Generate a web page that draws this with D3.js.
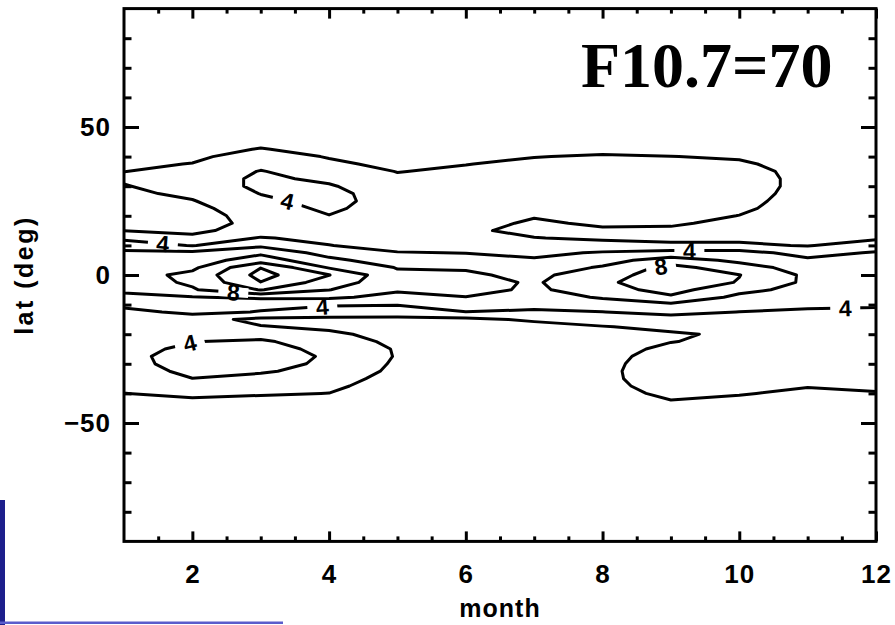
<!DOCTYPE html>
<html>
<head>
<meta charset="utf-8">
<title>F10.7=70</title>
<script src="https://cdn.jsdelivr.net/npm/d3@7/dist/d3.min.js"></script>
<style>
  html, body { margin: 0; padding: 0; background: #fff; }
  svg { display: block; }
</style>
</head>
<body>
<svg id="chart" width="895" height="625"></svg>
<script>
// Grid columns (month) and the latitude rows (deg) that every column lists, north to south
const months = [1, 2, 3, 4, 5, 6, 7, 8, 9, 10, 11, 12];
const latRows = [45, 42.5, 40, 37.5, 35, 32.5, 30, 27.5, 25, 22.5, 20, 17.5, 15, 12.5, 10, 7.5, 5, 2.5, 0,
  -2.5, -5, -7.5, -10, -12.5, -15, -17.5, -20, -22.5, -25, -27.5, -30, -32.5, -35, -37.5, -40, -42.5, -45];

// Field values for each month, one per latitude row
const jan = [0.8, 1.1, 1.4, 1.7, 1.98, 2.23, 1.9, 1.6, 1.4, 1.3, 1.4, 1.6, 1.95, 3.55, 5.06, 6.4, 6.8, 7.05, 7.15,
  7.0, 6.4, 5.5, 4.6, 3.25, 2.9, 2.8, 2.9, 3.1, 3.4, 3.6, 3.5, 3.2, 2.8, 2.4, 1.98, 1.6, 1.2];
const feb = [1.0, 1.3, 1.7, 2.05, 2.5, 2.8, 2.8, 2.4, 1.9, 1.5, 1.3, 1.3, 1.6, 2.4, 3.9, 6.4, 7.0, 7.6, 8.5,
  8.3, 7.8, 5.9, 5.1, 4.6, 2.7, 3.0, 3.2, 3.95, 4.4, 4.6, 4.6, 4.4, 3.98, 3.0, 2.3, 1.8, 1.3];
const mar = [1.5, 2.1, 2.7, 3.4, 4.1, 4.4, 4.4, 4.05, 3.6, 3.1, 2.7, 2.5, 2.8, 4.16, 5.6, 7.6, 9.03, 11.95, 12.67,
  11.95, 10.1, 6.35, 4.6, 3.89, 1.53, 2.1, 3.2, 4.3, 4.7, 4.8, 4.6, 4.2, 3.5, 2.8, 2.15, 1.6, 1.1];
const apr = [1.0, 1.4, 1.9, 2.3, 2.9, 3.6, 4.2, 4.6, 4.6, 4.35, 3.95, 3.4, 3.1, 3.4, 4.05, 5.2, 6.5, 7.85, 10.05,
  9.0, 8.05, 6.4, 4.2, 3.2, 1.5, 1.7, 2.3, 2.9, 3.5, 3.8, 3.7, 3.4, 2.9, 2.5, 1.98, 1.5, 1.0];
const may = [0.7, 0.9, 1.2, 1.6, 1.95, 2.3, 2.6, 2.9, 3.1, 3.0, 2.8, 2.6, 2.5, 2.7, 3.3, 4.1, 4.9, 5.9, 6.4,
  6.7, 6.3, 5.3, 4.1, 3.0, 1.5, 1.3, 1.44, 1.6, 1.83, 1.86, 1.7, 1.53, 1.23, 0.83, 0.7, 0.6, 0.5];
const jun = [0.9, 1.2, 1.5, 1.95, 2.3, 2.6, 2.8, 3.0, 3.0, 2.9, 2.7, 2.5, 2.3, 2.5, 3.1, 3.95, 4.8, 5.8, 6.3,
  6.8, 6.8, 5.95, 5.0, 3.98, 1.5, 1.2, 1.0, 0.9, 0.9, 0.9, 0.8, 0.8, 0.7, 0.6, 0.5, 0.5, 0.4];
const jul = [1.1, 1.4, 1.95, 2.4, 2.8, 3.0, 3.0, 2.9, 2.7, 2.4, 2.1, 1.8, 1.53, 2.05, 2.8, 3.5, 4.25, 5.0, 5.5,
  5.75, 5.6, 5.1, 4.6, 3.7, 2.3, 1.3, 1.0, 0.9, 0.8, 0.8, 0.7, 0.7, 0.6, 0.6, 0.5, 0.5, 0.4];
const aug = [1.3, 1.65, 2.15, 2.6, 2.9, 3.1, 3.1, 3.0, 2.8, 2.6, 2.4, 2.2, 1.8, 1.75, 2.6, 4.2, 5.3, 6.2, 7.2,
  7.67, 7.2, 6.2, 4.95, 3.98, 3.0, 1.9, 1.4, 1.3, 1.3, 1.4, 1.5, 1.6, 1.6, 1.5, 1.3, 1.0, 0.8];
const sep = [1.2, 1.6, 2.02, 2.5, 2.9, 3.1, 3.1, 3.0, 2.8, 2.6, 2.4, 2.15, 1.8, 1.6, 2.3, 4.75, 6.87, 8.7, 9.0,
  9.1, 8.7, 7.7, 5.6, 4.4, 3.4, 2.5, 1.75, 1.95, 2.4, 2.8, 3.0, 3.0, 2.9, 2.7, 2.4, 1.95, 1.5];
const oct = [1.1, 1.5, 1.85, 2.2, 2.5, 2.6, 2.6, 2.5, 2.35, 2.2, 1.98, 1.7, 1.5, 1.6, 2.3, 4.8, 5.6, 6.8, 8.05,
  7.9, 6.6, 5.5, 4.7, 3.98, 3.3, 2.8, 2.35, 2.4, 2.5, 2.5, 2.6, 2.6, 2.5, 2.3, 2.1, 1.7, 1.3];
const nov = [0.9, 1.1, 1.3, 1.45, 1.55, 1.6, 1.6, 1.55, 1.5, 1.45, 1.4, 1.35, 1.3, 1.5, 1.9, 3.2, 4.4, 5.2, 5.6,
  5.6, 5.3, 4.9, 4.4, 3.7, 3.2, 2.9, 2.7, 2.6, 2.6, 2.6, 2.5, 2.4, 2.25, 2.08, 1.7, 1.3, 1.0];
const dec = [0.8, 1.0, 1.2, 1.3, 1.4, 1.45, 1.45, 1.4, 1.35, 1.3, 1.3, 1.3, 1.4, 1.7, 2.9, 4.2, 4.9, 5.3, 5.5,
  5.5, 5.3, 5.0, 4.3, 3.5, 3.0, 2.7, 2.6, 2.5, 2.5, 2.5, 2.4, 2.35, 2.25, 2.15, 1.95, 1.5, 1.1];

const monthColumns = [jan, feb, mar, apr, may, jun, jul, aug, sep, oct, nov, dec];

// Contour levels, axis ticks and the in-line contour labels
const levels = [2, 4, 6, 8, 10, 12];
const xTicks = [2, 4, 6, 8, 10, 12];
const yTicks = [-50, 0, 50];
const contourLabels = [
  { level: 4, month: 3.4,  lat: 26 },
  { level: 4, month: 1.57, lat: 11 },
  { level: 8, month: 2.6,  lat: -5.5 },
  { level: 4, month: 3.9,  lat: -10.5 },
  { level: 4, month: 1.95, lat: -22 },
  { level: 4, month: 9.27, lat: 9.5 },
  { level: 8, month: 8.85, lat: 3.5 },
  { level: 4, month: 11.55, lat: -11 }
];

const svg = d3.select("#chart");
const plot = { left: 124, right: 876, top: 8.6, bottom: 541.4 };
const sans = "Liberation Sans, Arial, Helvetica, sans-serif";

const x = d3.scaleLinear().domain([1, 12]).range([plot.left, plot.right]);
const y = d3.scaleLinear().domain([-90, 90]).range([plot.bottom, plot.top]);

// Slide edge remnants in the lower-left corner
svg.append("rect").attr("x", 0).attr("y", 500).attr("width", 5).attr("height", 125).attr("fill", "#1d1f8c");
svg.append("rect").attr("x", 0).attr("y", 621.5).attr("width", 283).attr("height", 2.5).attr("fill", "#5a5ccc");

// Flatten the grid row by row for d3.contours
const values = [];
latRows.forEach((lat, j) => months.forEach((m, i) => values.push(monthColumns[i][j])));

const contours = d3.contours()
  .size([months.length, latRows.length])
  .thresholds(levels)(values);

// Grid coordinates -> month / latitude -> pixels
const colToMonth = d3.scaleLinear().domain([0.5, months.length - 0.5]).range([months[0], months[months.length - 1]]);
const rowToLat = d3.scaleLinear().domain([0.5, latRows.length - 0.5]).range([latRows[0], latRows[latRows.length - 1]]);
const toPx = ([px, py]) => [x(colToMonth(px)), y(rowToLat(py))];
const gridProjection = d3.geoTransform({
  point(px, py) { const p = toPx([px, py]); this.stream.point(p[0], p[1]); }
});
const path = d3.geoPath(gridProjection);

svg.append("clipPath").attr("id", "plotClip")
  .append("rect")
  .attr("x", plot.left).attr("y", plot.top)
  .attr("width", plot.right - plot.left).attr("height", plot.bottom - plot.top);

const body = svg.append("g").attr("clip-path", "url(#plotClip)");

body.selectAll("path.contour")
  .data(contours)
  .join("path")
  .attr("class", "contour")
  .attr("d", path)
  .attr("fill", "none")
  .attr("stroke", "#000")
  .attr("stroke-width", 3)
  .attr("stroke-linejoin", "round");

// Find the closest point on a level's contour to place its label
function nearestOnContour(level, tx, ty) {
  const c = contours.find(d => d.value === level);
  let best = null, bd = Infinity;
  c.coordinates.forEach(poly => poly.forEach(ring => {
    const pts = ring.map(toPx);
    for (let k = 1; k < pts.length; k++) {
      const [x0, y0] = pts[k - 1], [x1, y1] = pts[k];
      const dx = x1 - x0, dy = y1 - y0, L = dx * dx + dy * dy;
      let t = L ? ((tx - x0) * dx + (ty - y0) * dy) / L : 0;
      t = Math.max(0, Math.min(1, t));
      const qx = x0 + t * dx, qy = y0 + t * dy;
      const d = (qx - tx) ** 2 + (qy - ty) ** 2;
      if (d < bd) { bd = d; best = [qx, qy, Math.atan2(dy, dx) * 180 / Math.PI]; }
    }
  }));
  return best;
}

contourLabels.forEach(lab => {
  const p = nearestOnContour(lab.level, x(lab.month), y(lab.lat));
  if (!p) return;
  let ang = p[2];
  if (ang > 90) ang -= 180;
  if (ang < -90) ang += 180;
  const g = body.append("g").attr("transform", `translate(${p[0]},${p[1]}) rotate(${ang})`);
  g.append("rect").attr("x", -15).attr("y", -5).attr("width", 30).attr("height", 10).attr("fill", "#fff");
  g.append("text")
    .attr("text-anchor", "middle")
    .attr("dy", "0.36em")
    .attr("font-family", sans)
    .attr("font-weight", "bold")
    .attr("font-size", 23)
    .text(lab.level);
});

// Axes: ticks point inward, mirrored on the top and right edges
const minorX = d3.range(3, 24).map(v => v / 2).filter(v => !xTicks.includes(v));
const minorY = d3.range(-80, 90, 10).filter(v => !yTicks.includes(v));

function styleAxis(g) {
  g.select(".domain").remove();
  g.selectAll(".tick line").attr("stroke", "#000").attr("stroke-width", 3);
  g.selectAll(".tick text")
    .attr("font-family", sans)
    .attr("font-weight", "bold")
    .attr("font-size", 26)
    .attr("letter-spacing", 1)
    .attr("fill", "#000");
}

svg.append("g").attr("transform", `translate(0,${plot.bottom})`)
  .call(d3.axisBottom(x).tickValues(xTicks).tickSize(-10).tickPadding(23)).call(styleAxis);
svg.append("g").attr("transform", `translate(0,${plot.bottom})`)
  .call(d3.axisBottom(x).tickValues(minorX).tickSize(-5).tickFormat("")).call(styleAxis);
svg.append("g").attr("transform", `translate(0,${plot.top})`)
  .call(d3.axisTop(x).tickValues(xTicks).tickSize(-10).tickFormat("")).call(styleAxis);
svg.append("g").attr("transform", `translate(0,${plot.top})`)
  .call(d3.axisTop(x).tickValues(minorX).tickSize(-5).tickFormat("")).call(styleAxis);

svg.append("g").attr("transform", `translate(${plot.left},0)`)
  .call(d3.axisLeft(y).tickValues(yTicks).tickSize(-15).tickPadding(13)).call(styleAxis);
svg.append("g").attr("transform", `translate(${plot.left},0)`)
  .call(d3.axisLeft(y).tickValues(minorY).tickSize(-7.5).tickFormat("")).call(styleAxis);
svg.append("g").attr("transform", `translate(${plot.right},0)`)
  .call(d3.axisRight(y).tickValues(yTicks).tickSize(-15).tickFormat("")).call(styleAxis);
svg.append("g").attr("transform", `translate(${plot.right},0)`)
  .call(d3.axisRight(y).tickValues(minorY).tickSize(-7.5).tickFormat("")).call(styleAxis);

// Plot frame
svg.append("rect")
  .attr("x", plot.left).attr("y", plot.top)
  .attr("width", plot.right - plot.left).attr("height", plot.bottom - plot.top)
  .attr("fill", "none").attr("stroke", "#000").attr("stroke-width", 3);

// Axis titles
svg.append("text")
  .attr("x", 500).attr("y", 617)
  .attr("text-anchor", "middle")
  .attr("font-family", sans)
  .attr("font-weight", "bold")
  .attr("font-size", 25).attr("letter-spacing", 1)
  .text("month");

svg.append("text")
  .attr("transform", "translate(33,275) rotate(-90)")
  .attr("text-anchor", "middle")
  .attr("font-family", sans)
  .attr("font-weight", "bold")
  .attr("font-size", 25).attr("letter-spacing", 2.5)
  .text("lat (deg)");

// Solar flux annotation
svg.append("text")
  .attr("x", 581).attr("y", 87)
  .attr("font-family", "Liberation Serif, Times New Roman, serif")
  .attr("font-weight", "bold")
  .attr("font-size", 64)
  .text("F10.7=70");
</script>
</body>
</html>
